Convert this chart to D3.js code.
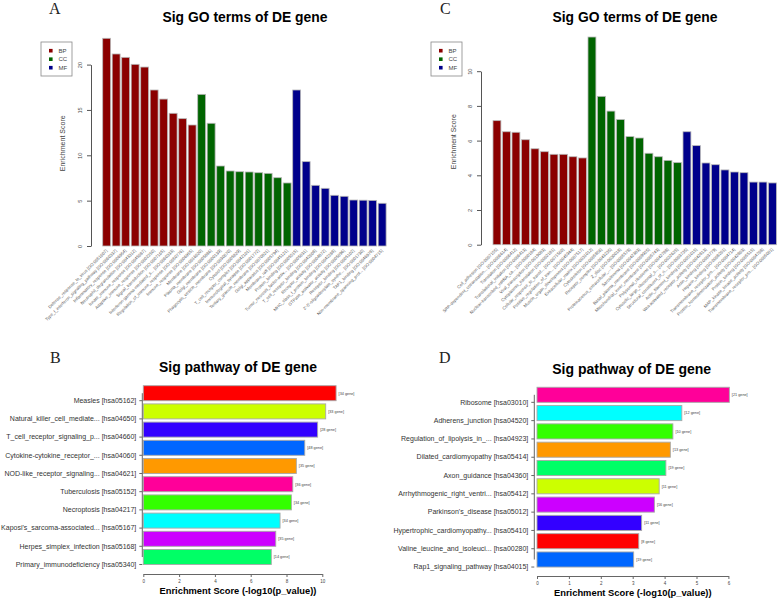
<!DOCTYPE html>
<html><head><meta charset="utf-8">
<script src="https://cdn.jsdelivr.net/npm/d3@7"></script>
<style>body{margin:0;background:#fff} text{font-family:"Liberation Sans",Arial,sans-serif}</style>
</head><body><svg id="c" width="778" height="599"></svg>
<script>
// ---------- DATA ----------
const goCategories = ["BP", "CC", "MF"];
const goColors = ["#8B0000", "#006400", "#00008B"];

const A_BP_labels = ["Defense_response_to_virus [GO:0051607]", "Type_I_interferon_signaling_pathway [GO:0060337]", "Inflammatory_response [GO:0006954]", "Neutrophil_degranulation [GO:0043312]", "Innate_immune_response [GO:0045087]", "Adaptive_immune_response [GO:0002250]", "Signal_transduction [GO:0007165]", "Interferon-gamma-mediated_s... [GO:0060333]", "Regulation_of_immune_response [GO:0050776]", "Immune_response [GO:0006955]"];
const A_BP_values = [22.9, 21.17, 20.8, 20.03, 19.73, 17.2, 16.2, 14.63, 14.04, 13.34];
const A_CC_labels = ["Membrane [GO:0016020]", "Plasma_membrane [GO:0005886]", "Golgi_membrane [GO:0000139]", "Phagocytic_vesicle_membrane [GO:0030670]", "Cytosol [GO:0005829]", "T_cell_receptor_complex [GO:0042101]", "Immunological_synapse [GO:0001772]", "Tertiary_granule_membrane [GO:0070821]", "Golgi_apparatus [GO:0005794]", "Membrane_raft [GO:0045121]"];
const A_CC_values = [16.72, 13.53, 8.82, 8.27, 8.19, 8.16, 8.08, 8.01, 7.53, 6.95];
const A_MF_labels = ["Protein_binding [GO:0005515]", "Tumor_necrosis_factor-activ... [GO:0005031]", "T_cell_receptor_binding [GO:0042608]", "Receptor_activity [GO:0004872]", "MHC_class_I_protein_binding [GO:0042288]", "GTPase_activator_activity [GO:0005096]", "Receptor_binding [GO:0005102]", "2'-5'-oligoadenylate_synthe... [GO:0001730]", "TAP1_binding [GO:0046978]", "Non-membrane_spanning_prot... [GO:0004715]"];
const A_MF_values = [17.2, 9.30, 6.69, 6.36, 5.59, 5.48, 5.07, 5.05, 5.03, 4.71];
const A_yTicks = [0, 5, 10, 15, 20];

const C_BP_labels = ["Cell_adhesion [GO:0007155]", "SRP-dependent_cotranslation... [GO:0006614]", "Translation [GO:0006412]", "Translational_initiation [GO:0006413]", "Nuclear-transcribed_mRNA_ca... [GO:0000184]", "Viral_transcription [GO:0019083]", "Cytoplasmic_translation [GO:0002181]", "Cellular_response_to_transf... [GO:0071560]", "Positive_regulation_of_tran... [GO:0045944]", "Muscle_organ_development [GO:0007517]"];
const C_BP_values = [7.15, 6.51, 6.48, 6.05, 5.53, 5.36, 5.21, 5.21, 5.07, 5.0];
const C_CC_labels = ["Extracellular_matrix [GO:0031012]", "Cytoskeleton [GO:0005856]", "Receptor_complex [GO:0043235]", "Z_disc [GO:0030018]", "Proteinaceous_extracellular_... [GO:0005578]", "Sarcolemma [GO:0042383]", "Basal_plasma_membrane [GO:0009925]", "Mitochondrial_inner_membrane [GO:0005743]", "Polysomal_ribosome [GO:0042788]", "Cytosolic_large_ribosomal_s... [GO:0022625]"];
const C_CC_values = [11.97, 8.55, 7.70, 7.21, 6.23, 6.15, 5.27, 5.07, 4.86, 4.73];
const C_MF_labels = ["Structural_constituent_of_ri... [GO:0003735]", "Actin_filament_binding [GO:0051015]", "Wnt-activated_receptor_activity [GO:0042813]", "Actin_binding [GO:0003779]", "Heparin_binding [GO:0008201]", "Transmembrane_receptor_pro... [GO:0004714]", "Protein_homodimerization_activity [GO:0042803]", "Protein_binding [GO:0005515]", "MAP_kinase_kinase_activity [GO:0004708]", "Transmembrane_receptor_pro... [GO:0005001]"];
const C_MF_values = [6.51, 5.71, 4.71, 4.61, 4.31, 4.19, 4.15, 3.61, 3.61, 3.56];
const C_yTicks = [0, 2, 4, 6, 8, 10];

const B_pathways = ["Measles [hsa05162]", "Natural_killer_cell_mediate... [hsa04650]", "T_cell_receptor_signaling_p... [hsa04660]", "Cytokine-cytokine_receptor_... [hsa04060]", "NOD-like_receptor_signaling... [hsa04621]", "Tuberculosis [hsa05152]", "Necroptosis [hsa04217]", "Kaposi's_sarcoma-associated... [hsa05167]", "Herpes_simplex_infection [hsa05168]", "Primary_immunodeficiency [hsa05340]"];
const B_values = [10.77, 10.19, 9.74, 9.02, 8.55, 8.35, 8.27, 7.64, 7.40, 7.15];
const B_genes = ["[34 gene]", "[33 gene]", "[28 gene]", "[48 gene]", "[35 gene]", "[36 gene]", "[34 gene]", "[34 gene]", "[35 gene]", "[14 gene]"];
const B_colors = ["#FF0000", "#CCFF00", "#3300FF", "#0066FF", "#FF9900", "#FF0099", "#33FF00", "#00FFFF", "#CC00FF", "#00FF66"];
const B_xTicks = [0, 2, 4, 6, 8, 10];

const D_pathways = ["Ribosome [hsa03010]", "Adherens_junction [hsa04520]", "Regulation_of_lipolysis_in_... [hsa04923]", "Dilated_cardiomyopathy [hsa05414]", "Axon_guidance [hsa04360]", "Arrhythmogenic_right_ventri... [hsa05412]", "Parkinson's_disease [hsa05012]", "Hypertrophic_cardiomyopathy... [hsa05410]", "Valine_leucine_and_isoleuci... [hsa00280]", "Rap1_signaling_pathway [hsa04015]"];
const D_values = [6.03, 4.54, 4.26, 4.18, 4.04, 3.83, 3.68, 3.28, 3.19, 3.03];
const D_genes = ["[21 gene]", "[12 gene]", "[10 gene]", "[13 gene]", "[19 gene]", "[11 gene]", "[16 gene]", "[11 gene]", "[8 gene]", "[19 gene]"];
const D_colors = ["#FF0099", "#00FFFF", "#33FF00", "#FF9900", "#00FF66", "#CCFF00", "#CC00FF", "#3300FF", "#FF0000", "#0066FF"];
const D_xTicks = [0, 1, 2, 3, 4, 5, 6];

// ---------- DRAW ----------
const svg = d3.select("#c");
svg.append("rect").attr("width", 778).attr("height", 599).attr("fill", "#fff");

function fitText(t, w) {
  const fs = parseFloat(t.attr("font-size"));
  const len = t.node().getComputedTextLength();
  if (len > 0) t.attr("font-size", (fs * w / len).toFixed(2));
  return t;
}
function title(txt, cx, by, w) {
  fitText(svg.append("text").attr("x", cx).attr("y", by).attr("text-anchor", "middle")
    .attr("font-weight", "bold").attr("font-size", 14).attr("fill", "#000").text(txt), w);
}
function letter(txt, x, by) {
  svg.append("text").attr("x", x).attr("y", by).attr("font-size", 16)
    .style("font-family", '"Liberation Serif","Times New Roman",serif').attr("fill", "#222").text(txt);
}

function goPanel(cfg) {
  const data = [];
  [cfg.BP, cfg.CC, cfg.MF].forEach((grp, ci) => {
    grp.labels.forEach((l, i) => data.push({ label: l, value: grp.values[i], cat: ci }));
  });
  const x = d3.scaleBand().domain(d3.range(data.length)).range(cfg.xr).paddingInner(0.168).paddingOuter(0.084);
  const y = d3.scaleLinear().domain([0, cfg.ymax]).range(cfg.yr);
  const g = svg.append("g");
  g.selectAll("rect.bar").data(data).join("rect").attr("class", "bar")
    .attr("x", (d, i) => x(i)).attr("y", d => y(d.value))
    .attr("width", x.bandwidth()).attr("height", d => y(0) - y(d.value))
    .attr("fill", d => goColors[d.cat]).attr("stroke", "#b8b8b8").attr("stroke-width", 0.8);
  // y axis
  const ax = g.append("g").attr("transform", `translate(${cfg.axisX},0)`)
    .call(d3.axisLeft(y).tickValues(cfg.ticks).tickSize(4).tickSizeOuter(0).tickFormat(d3.format("d")));
  ax.select(".domain").attr("stroke", "#555");
  ax.selectAll(".tick line").attr("stroke", "#555");
  ax.selectAll(".tick text").attr("x", null).attr("dy", null).attr("text-anchor", "middle")
    .attr("transform", "translate(-9.5,0) rotate(-90)").attr("font-size", 5.6).attr("fill", "#444")
    .style("font-family", '"Liberation Sans",Arial,sans-serif');
  // y label
  fitText(g.append("text").attr("transform", `translate(${cfg.ylabX},${cfg.ylabY}) rotate(-90)`)
    .attr("text-anchor", "middle").attr("font-size", 7).attr("fill", "#444").text("Enrichment Score"), cfg.ylabW);
  // x labels
  g.selectAll("text.xl").data(data).join("text").attr("class", "xl")
    .attr("transform", (d, i) => `translate(${x(i) + x.bandwidth() / 2 + 1},${y(0) + 5}) rotate(-45)`)
    .attr("text-anchor", "end").attr("font-size", 4.3).attr("fill", "#555").text(d => d.label);
  // legend
  const L = cfg.legend;
  g.append("rect").attr("x", L.x).attr("y", L.y).attr("width", 31).attr("height", 34)
    .attr("fill", "#fff").attr("stroke", "#888").attr("stroke-width", 0.8);
  goCategories.forEach((c, i) => {
    const cy = L.y + 8.7 + i * 8.5;
    g.append("rect").attr("x", L.x + 8).attr("y", cy - 1.8).attr("width", 3.6).attr("height", 3.6).attr("fill", goColors[i]);
    g.append("text").attr("x", L.x + 17.5).attr("y", cy).attr("dy", "0.35em").attr("font-size", 6)
      .attr("fill", "#444").text(c);
  });
}

function pathPanel(cfg) {
  const n = cfg.names.length;
  const y = d3.scaleBand().domain(d3.range(n)).range(cfg.yr).paddingInner(0.176).paddingOuter(0.088);
  const x = d3.scaleLinear().domain([0, cfg.xmax]).range(cfg.xr);
  const g = svg.append("g");
  g.selectAll("rect.bar").data(cfg.values).join("rect").attr("class", "bar")
    .attr("x", x(0)).attr("y", (d, i) => y(i)).attr("width", d => x(d) - x(0)).attr("height", y.bandwidth())
    .attr("fill", (d, i) => cfg.colors[i]).attr("stroke", "#a8a8a8").attr("stroke-width", 0.9);
  g.selectAll("text.gn").data(cfg.values).join("text").attr("class", "gn")
    .attr("x", d => x(d) + 2.5).attr("y", (d, i) => y(i) + y.bandwidth() / 2).attr("dy", "0.35em")
    .attr("font-size", 3.8).attr("fill", "#444").text((d, i) => cfg.genes[i]);
  // left axis
  const c0 = y(0) + y.bandwidth() / 2, c1 = y(n - 1) + y.bandwidth() / 2;
  g.append("line").attr("x1", cfg.axisX).attr("x2", cfg.axisX).attr("y1", c0).attr("y2", c1).attr("stroke", "#666");
  const lax = g.append("g").attr("transform", `translate(${cfg.axisX},${y.bandwidth() / 2})`)
    .call(d3.axisLeft(y).tickSize(3).tickPadding(3).tickFormat(i => cfg.names[i]));
  lax.select(".domain").remove();
  lax.selectAll(".tick line").attr("stroke", "#666");
  lax.selectAll(".tick text").attr("font-size", 7).attr("fill", "#333")
    .style("font-family", '"Liberation Sans",Arial,sans-serif');
  // bottom axis
  const bax = g.append("g").attr("transform", `translate(0,${cfg.axisY})`)
    .call(d3.axisBottom(x).tickValues(cfg.ticks).tickSize(3).tickSizeOuter(0).tickPadding(3).tickFormat(d3.format("d")));
  bax.select(".domain").attr("stroke", "#666");
  bax.selectAll(".tick line").attr("stroke", "#666");
  bax.selectAll(".tick text").attr("font-size", 4.5).attr("fill", "#444")
    .style("font-family", '"Liberation Sans",Arial,sans-serif');
  fitText(g.append("text").attr("x", cfg.xlab.cx).attr("y", cfg.xlab.by).attr("text-anchor", "middle")
    .attr("font-weight", "bold").attr("font-size", 11).attr("fill", "#000")
    .text("Enrichment Score (-log10(p_value))"), cfg.xlab.w);
}

// Panel A
letter("A", 49, 14);
title("Sig GO terms of DE gene", 245, 22, 165);
goPanel({
  BP: { labels: A_BP_labels, values: A_BP_values },
  CC: { labels: A_CC_labels, values: A_CC_values },
  MF: { labels: A_MF_labels, values: A_MF_values },
  xr: [101.9, 386.9], ymax: 20, yr: [246, 64.6], ticks: A_yTicks, axisX: 91,
  ylabX: 65, ylabY: 143.3, ylabW: 56, legend: { x: 41, y: 42 }
});
// Panel C
letter("C", 440, 14);
title("Sig GO terms of DE gene", 635, 22, 165);
goPanel({
  BP: { labels: C_BP_labels, values: C_BP_values },
  CC: { labels: C_CC_labels, values: C_CC_values },
  MF: { labels: C_MF_labels, values: C_MF_values },
  xr: [492.2, 777.2], ymax: 10, yr: [244.7, 71.2], ticks: C_yTicks, axisX: 481,
  ylabX: 455.5, ylabY: 141.7, ylabW: 55, legend: { x: 431, y: 42 }
});
// Panel B
letter("B", 50, 363);
title("Sig pathway of DE gene", 238, 371.7, 158);
pathPanel({
  names: B_pathways, values: B_values, genes: B_genes, colors: B_colors,
  yr: [384.1, 566.1], xmax: 10, xr: [143.3, 322.3], ticks: B_xTicks, axisX: 142.3, axisY: 574,
  xlab: { cx: 238, by: 594, w: 157 }
});
// Panel D
letter("D", 439, 363.3);
title("Sig pathway of DE gene", 631.7, 374.3, 159);
pathPanel({
  names: D_pathways, values: D_values, genes: D_genes, colors: D_colors,
  yr: [385.65, 568.65], xmax: 6, xr: [537, 728.4], ticks: D_xTicks, axisX: 534.3, axisY: 576,
  xlab: { cx: 632.8, by: 595.7, w: 157.7 }
});
</script></body></html>
